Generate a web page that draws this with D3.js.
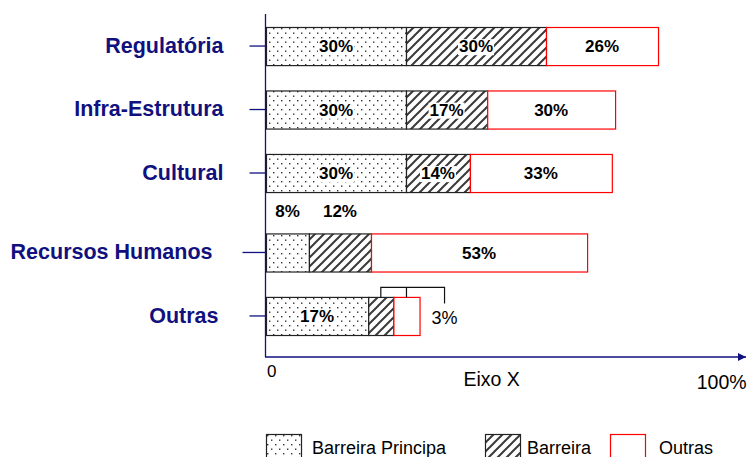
<!DOCTYPE html>
<html>
<head>
<meta charset="utf-8">
<script src="https://cdn.jsdelivr.net/npm/d3@7"></script>
<style>
  body { margin: 0; background: #fff; }
  svg text { font-family: "Liberation Sans", Arial, sans-serif; }
</style>
</head>
<body>
<svg id="chart" width="747" height="457"></svg>
<script>
// categories, top to bottom
var categories = ['Regulatória', 'Infra-Estrutura', 'Cultural', 'Recursos Humanos', 'Outras'];
var seriesNames = ['Barreira Principa', 'Barreira', 'Outras'];

// segment lengths as they are drawn (in % of the axis)
var principal = [30, 30, 30, 9.2, 21.9];
var barreira = [30, 17.4, 13.7, 13.3, 5.4];
var outras = [24, 27.4, 30.4, 46.3, 5.6];

// printed labels
var principalLabels = ['30%', '30%', '30%', '8%', '17%'];
var barreiraLabels = ['30%', '17%', '14%', '12%', ''];
var outrasLabels = ['26%', '30%', '33%', '53%', ''];
var calloutLabel = '3%';   // shared by Barreira + Outras on the last row
var aboveRow = 'Recursos Humanos';   // its two small labels sit above the bar

var navy = '#10107e';
var svg = d3.select('#chart');

var x = d3.scaleLinear().domain([0, 100]).range([266, 732.7]);
var y = d3.scaleBand().domain(categories).range([27, 319]).paddingInner(0.4).paddingOuter(0);
// leave some extra room for the row that carries labels above it
var aboveGap = 16;
function yPos(c) {
  return y(c) + (categories.indexOf(c) >= categories.indexOf(aboveRow) ? aboveGap : 0);
}

// patterns
var defs = svg.append('defs');
var dots = defs.append('pattern')
  .attr('id', 'dots').attr('patternUnits', 'userSpaceOnUse')
  .attr('width', 8).attr('height', 9);
dots.append('rect').attr('width', 8).attr('height', 9).attr('fill', '#fff');
dots.append('rect').attr('x', 1).attr('y', 1).attr('width', 1.4).attr('height', 1.4).attr('fill', '#333');
dots.append('rect').attr('x', 5).attr('y', 5.5).attr('width', 1.4).attr('height', 1.4).attr('fill', '#333');

var hatch = defs.append('pattern')
  .attr('id', 'hatch').attr('patternUnits', 'userSpaceOnUse')
  .attr('width', 9).attr('height', 9);
hatch.append('rect').attr('width', 9).attr('height', 9).attr('fill', '#fff');
hatch.append('path')
  .attr('d', 'M-2,11 L11,-2 M-2,2 L2,-2 M7,11 L11,7')
  .attr('stroke', '#3a3a3a').attr('stroke-width', 2);

// stack the rows
var rows = categories.map(function(c, i) {
  return [
    { cat: c, x0: 0, x1: principal[i], fill: 'url(#dots)', stroke: '#222', label: principalLabels[i], small: c === aboveRow },
    { cat: c, x0: principal[i], x1: principal[i] + barreira[i], fill: 'url(#hatch)', stroke: '#222', label: barreiraLabels[i], small: c === aboveRow },
    { cat: c, x0: principal[i] + barreira[i], x1: principal[i] + barreira[i] + outras[i], fill: '#fff', stroke: '#f00', label: outrasLabels[i], small: false }
  ];
});
var segments = d3.merge(rows);

svg.append('g').selectAll('rect').data(segments).enter()
  .append('rect')
    .attr('x', function(d) { return x(d.x0) + 0.5; })
    .attr('y', function(d) { return yPos(d.cat) + 0.5; })
    .attr('width', function(d) { return x(d.x1) - x(d.x0); })
    .attr('height', y.bandwidth())
    .attr('fill', function(d) { return d.fill; })
    .attr('stroke', function(d) { return d.stroke; })
    .attr('stroke-width', 1.2);

function labelY(d) {
  if (d.small) return yPos(d.cat) - 23;
  return yPos(d.cat) + y.bandwidth() / 2;
}
var labels = svg.append('g').selectAll('g').data(segments.filter(function(d) { return d.label; })).enter()
  .append('g');
labels.append('text')
  .attr('x', function(d) { return (x(d.x0) + x(d.x1)) / 2; })
  .attr('y', labelY)
  .attr('dy', '0.36em')
  .attr('text-anchor', 'middle')
  .attr('font-size', 17).attr('font-weight', 'bold')
  .text(function(d) { return d.label; });
labels.each(function() {
  var g = d3.select(this);
  var b = g.select('text').node().getBBox();
  g.insert('rect', 'text')
    .attr('x', b.x - 1).attr('y', b.y + 2)
    .attr('width', b.width + 2).attr('height', b.height - 3)
    .attr('fill', '#fff');
});

// callout for the tiny segments on the last row
var lastRow = rows[rows.length - 1];
var cx1 = (x(lastRow[1].x0) + x(lastRow[1].x1)) / 2;
var cx2 = (x(lastRow[2].x0) + x(lastRow[2].x1)) / 2;
var barTop = yPos(lastRow[0].cat) + 0.5;
var cx3 = x(lastRow[2].x1) + 25;
svg.append('path')
  .attr('d', 'M' + cx1 + ',' + barTop + ' V' + (barTop - 10) + ' H' + cx3 + ' V' + (barTop + 6) +
             ' M' + cx2 + ',' + barTop + ' V' + (barTop - 10))
  .attr('fill', 'none').attr('stroke', '#111').attr('stroke-width', 1.2);
svg.append('text')
  .attr('x', cx3).attr('y', barTop + 27)
  .attr('text-anchor', 'middle')
  .attr('font-size', 18)
  .text(calloutLabel);

// y axis with category labels
var yAxis = svg.append('g')
  .attr('transform', 'translate(265.5,0)')
  .call(d3.axisLeft(y).tickSize(16).tickPadding(26));
yAxis.select('.domain').remove();
yAxis.selectAll('.tick')
  .attr('transform', function(d) { return 'translate(0,' + (yPos(d) + y.bandwidth() / 2) + ')'; });
yAxis.selectAll('.tick line').attr('stroke', navy).attr('stroke-width', 1.3);
yAxis.selectAll('.tick text')
  .attr('fill', navy)
  .attr('font-size', 21.5).attr('font-weight', 'bold')
  .attr('font-family', '"Liberation Sans", Arial, sans-serif');
yAxis.selectAll('.tick').filter(function(d) { return d === 'Recursos Humanos'; })
  .select('text').attr('dx', -11);
yAxis.selectAll('.tick').filter(function(d) { return d === 'Recursos Humanos'; })
  .select('line').attr('x2', -23);
yAxis.selectAll('.tick').filter(function(d) { return d === 'Outras'; })
  .select('text').attr('dx', -5);

svg.append('line')
  .attr('x1', 265.5).attr('x2', 265.5).attr('y1', 14).attr('y2', 357)
  .attr('stroke', navy).attr('stroke-width', 1.3);

// x axis with arrow
defs.append('marker')
  .attr('id', 'arrow').attr('viewBox', '0 0 10 10')
  .attr('refX', 10).attr('refY', 5)
  .attr('markerWidth', 8).attr('markerHeight', 8)
  .attr('markerUnits', 'userSpaceOnUse')
  .attr('orient', 'auto')
  .append('path').attr('d', 'M0,0 L10,5 L0,10 Z').attr('fill', navy);
svg.append('line')
  .attr('x1', 265).attr('x2', 746).attr('y1', 357).attr('y2', 357)
  .attr('stroke', navy).attr('stroke-width', 1.3)
  .attr('marker-end', 'url(#arrow)');

svg.append('text').attr('x', x(0) + 1).attr('y', 377).attr('font-size', 17).text('0');
svg.append('text').attr('x', x(42.3)).attr('y', 386).attr('font-size', 19.5).text('Eixo X');
svg.append('text').attr('x', x(100) - 36).attr('y', 389).attr('font-size', 19.5).text('100%');

// legend
var legendX = [266, 485, 610];
var legendFill = ['url(#dots)', 'url(#hatch)', '#fff'];
var legendStroke = ['#222', '#222', '#f00'];
var legendTextDx = [46, 42, 49];
var legend = svg.append('g').selectAll('g').data(seriesNames).enter()
  .append('g')
  .attr('transform', function(d, i) { return 'translate(' + legendX[i] + ',434)'; });
legend.append('rect')
  .attr('x', 0.5).attr('y', 0.5).attr('width', 35).attr('height', 30)
  .attr('fill', function(d, i) { return legendFill[i]; })
  .attr('stroke', function(d, i) { return legendStroke[i]; })
  .attr('stroke-width', 1.2);
legend.append('text')
  .attr('x', function(d, i) { return legendTextDx[i]; })
  .attr('y', 19.5)
  .attr('font-size', 18)
  .text(function(d) { return d; });
</script>
</body>
</html>
